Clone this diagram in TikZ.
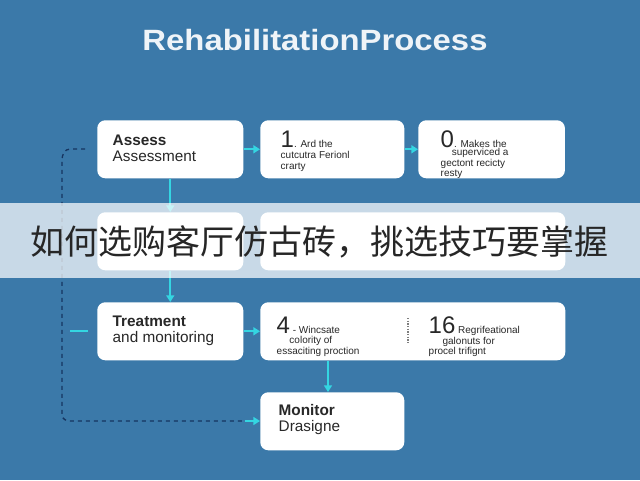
\documentclass[tikz,border=0pt]{standalone}
\usepackage{fontspec}
\setmainfont{Liberation Sans}
\newfontfamily\cjk{Noto Sans CJK SC}
\usetikzlibrary{arrows.meta,positioning}
\definecolor{fondo}{RGB}{59,121,169}
\definecolor{cian}{RGB}{52,214,226}
\definecolor{azulOscuro}{RGB}{22,52,96}
\definecolor{texto}{RGB}{40,40,40}
\tikzstyle{box}  =[draw=none, fill=white, rounded corners=6pt,
                   minimum height=43.5pt, inner sep=0pt, anchor=north west]
\tikzstyle{flow} =[-{Triangle[length=5pt,width=6pt]}, cian, line width=1.2pt]
\begin{document}
\begin{tikzpicture}[x=0.75pt,y=-0.75pt]
    \fill[fondo] (0,0) rectangle (640,480);
    \node (title) [xscale=1.12] at (315,40) {\fontsize{22}{22}\selectfont\bfseries\color{white!92!fondo}RehabilitationProcess};

    % first row
    \node (assess) [box, minimum width=109.5pt] at (97,120) {};
    \node[anchor=north west, align=left, text=texto] at (108,130)
        {\fontsize{11.5}{16}\selectfont\bfseries Assess\\\fontsize{11.5}{16}\selectfont Assessment};
    \node (one) [box, minimum width=108pt] at (260,120) {};
    \node[anchor=north west, align=left, text=texto, font=\fontsize{7.5}{8.5}\selectfont] at (276,126)
        {{\fontsize{18}{16}\selectfont 1}. Ard the\\ cutcutra Ferionl\\ crarty};
    \node (zero) [box, minimum width=110pt] at (418,120) {};
    \node[anchor=north west, align=left, text=texto, font=\fontsize{7.5}{8}\selectfont] at (436,126)
        {{\fontsize{18}{8}\selectfont 0}. Makes the\\[-2pt] \phantom{0.} superviced a\\ gectont recicty\\ resty};

    % second row
    \node (plan) [box, minimum width=109.5pt] at (97,212) {};
    \node (planR) [box, minimum width=228.75pt] at (260,212) {};

    % third row
    \node (treat) [box, minimum width=109.5pt] at (97,302) {};
    \node[anchor=north west, align=left, text=texto] at (108,311)
        {\fontsize{11.5}{16}\selectfont\bfseries Treatment\\\fontsize{11.5}{16}\selectfont and monitoring};
    \node (treatR) [box, minimum width=228.75pt] at (260,302) {};
    \node[anchor=north west, align=left, text=texto, font=\fontsize{7.5}{8}\selectfont] at (272,312)
        {{\fontsize{18}{8}\selectfont 4} - Wincsate\\ \quad\ colority of\\ essaciting proction};
    \draw[texto!60, densely dotted, line width=1pt] (408,318) -- (408,344);
    \node[anchor=north west, align=left, text=texto, font=\fontsize{7.5}{8}\selectfont] at (424,312)
        {{\fontsize{18}{8}\selectfont 16} Regrifeational\\ \phantom{16} galonuts for\\ procel trifignt};

    % last box
    \node (monitor) [box, minimum width=108pt] at (260,392) {};
    \node[anchor=north west, align=left, text=texto] at (274,400)
        {\fontsize{11.5}{16}\selectfont\bfseries Monitor\\\fontsize{11.5}{16}\selectfont Drasigne};

    % connectors
    \draw[flow] (assess.east) -- (one.west);
    \draw[flow] (one.east) -- (zero.west);
    \draw[flow] (assess.south) -- (plan.north);
    \draw[flow] (plan.south) -- (treat.north);
    \draw[flow] (treat.east) -- (treatR.west);
    \draw[flow] (treatR.south -| 328,0) -- (monitor.north -| 328,0);
    \coordinate (loopA) at (85,149);
    \coordinate (tick) at (70,331);
    \draw[azulOscuro, dashed, line width=1pt] (loopA) -- (70,149) to[out=180,in=90] (62,160) -- (62,415)
        to[out=-90,in=180] (70,421) -- (245,421);
    \draw[flow] (245,421) -- (monitor.west |- 0,421);
    \draw[cian, line width=1.2pt] (tick) -- (88,331);

    % banner
    \fill[white, opacity=0.72] (0,203) rectangle (640,278);
    \node (banner) at (320,242) {\cjk\fontsize{25.5}{26}\selectfont\color{black!85}如何选购客厅仿古砖，挑选技巧要掌握};
\end{tikzpicture}
\end{document}
